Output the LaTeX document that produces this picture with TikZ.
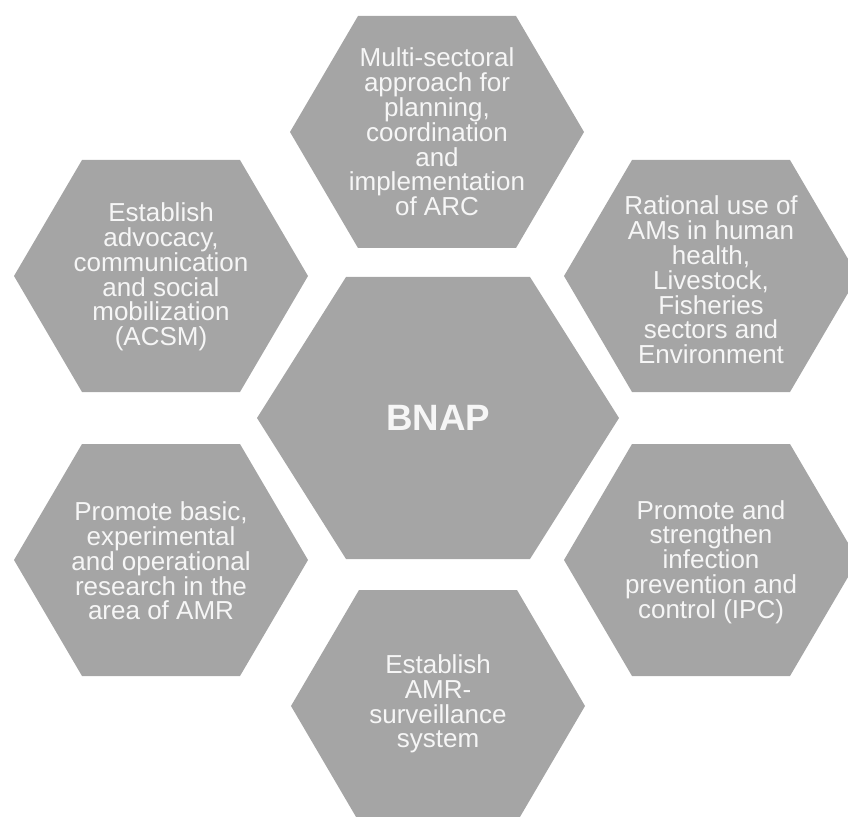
\documentclass[tikz,border=0pt]{standalone}
\usepackage{fontspec}
\setmainfont{Liberation Sans}
\definecolor{hexgray}{RGB}{165,165,165}
\definecolor{hextxt}{RGB}{246,246,246}

\tikzset{every picture/.style={line width=0.75pt}}
\tikzset{
  hexcell/.style={fill=hexgray, draw=none},
  hexlabel/.style={inner sep=0.75pt, text=hextxt, align=center, font=\fontsize{19.5}{18.6}\selectfont},
  hubtext/.style={inner sep=0.75pt, text=hextxt, font=\fontsize{27.5}{30}\selectfont\bfseries},
}

\begin{document}
\begin{tikzpicture}[x=0.75pt,y=0.75pt,yscale=-1,xscale=1]
%set diagram size 848 x 816
\clip (0,0) rectangle (848,816);

%Shape: Hexagon (centre)
\draw [hexcell] (346,277) -- (530,277) -- (619,418) -- (530,559) -- (346,559) -- (257,418) -- cycle ;
%Shape: Hexagon (top)
\draw [hexcell] (358,16) -- (516,16) -- (584,132) -- (516,248) -- (358,248) -- (290,132) -- cycle ;
%Shape: Hexagon (upper left)
\draw [hexcell] (82,160) -- (240,160) -- (308,276) -- (240,392) -- (82,392) -- (14,276) -- cycle ;
%Shape: Hexagon (upper right)
\draw [hexcell] (632,160) -- (790,160) -- (858,276) -- (790,392) -- (632,392) -- (564,276) -- cycle ;
%Shape: Hexagon (lower left)
\draw [hexcell] (82,444) -- (240,444) -- (308,560) -- (240,676) -- (82,676) -- (14,560) -- cycle ;
%Shape: Hexagon (lower right)
\draw [hexcell] (632,444) -- (790,444) -- (858,560) -- (790,676) -- (632,676) -- (564,560) -- cycle ;
%Shape: Hexagon (bottom)
\draw [hexcell] (359,590) -- (517,590) -- (585,706) -- (517,822) -- (359,822) -- (291,706) -- cycle ;

% Text Node
\draw (438,418) node (bnap) [hubtext] {BNAP};
% Text Node
\draw (437,132) node (arc) [hexlabel] {Multi-sectoral\\approach for\\planning,\\coordination\\and\\implementation\\of ARC};
% Text Node
\draw (161,277) node (acsm) [hexlabel] {Establish\\advocacy,\\communication\\and social\\mobilization\\(ACSM)};
% Text Node
\draw (711,280) node (amuse) [hexlabel] {Rational use of\\AMs in human\\health,\\Livestock,\\Fisheries\\sectors and\\Environment};
% Text Node
\draw (161,561) node (research) [hexlabel] {Promote basic,\\experimental\\and operational\\research in the\\area of AMR};
% Text Node
\draw (711,562) node (ipc) [hexlabel] {Promote and\\strengthen\\infection\\prevention and\\control (IPC)};
% Text Node
\draw (438,704) node (surv) [hexlabel] {Establish\\AMR-\\surveillance\\system};

\end{tikzpicture}
\end{document}
